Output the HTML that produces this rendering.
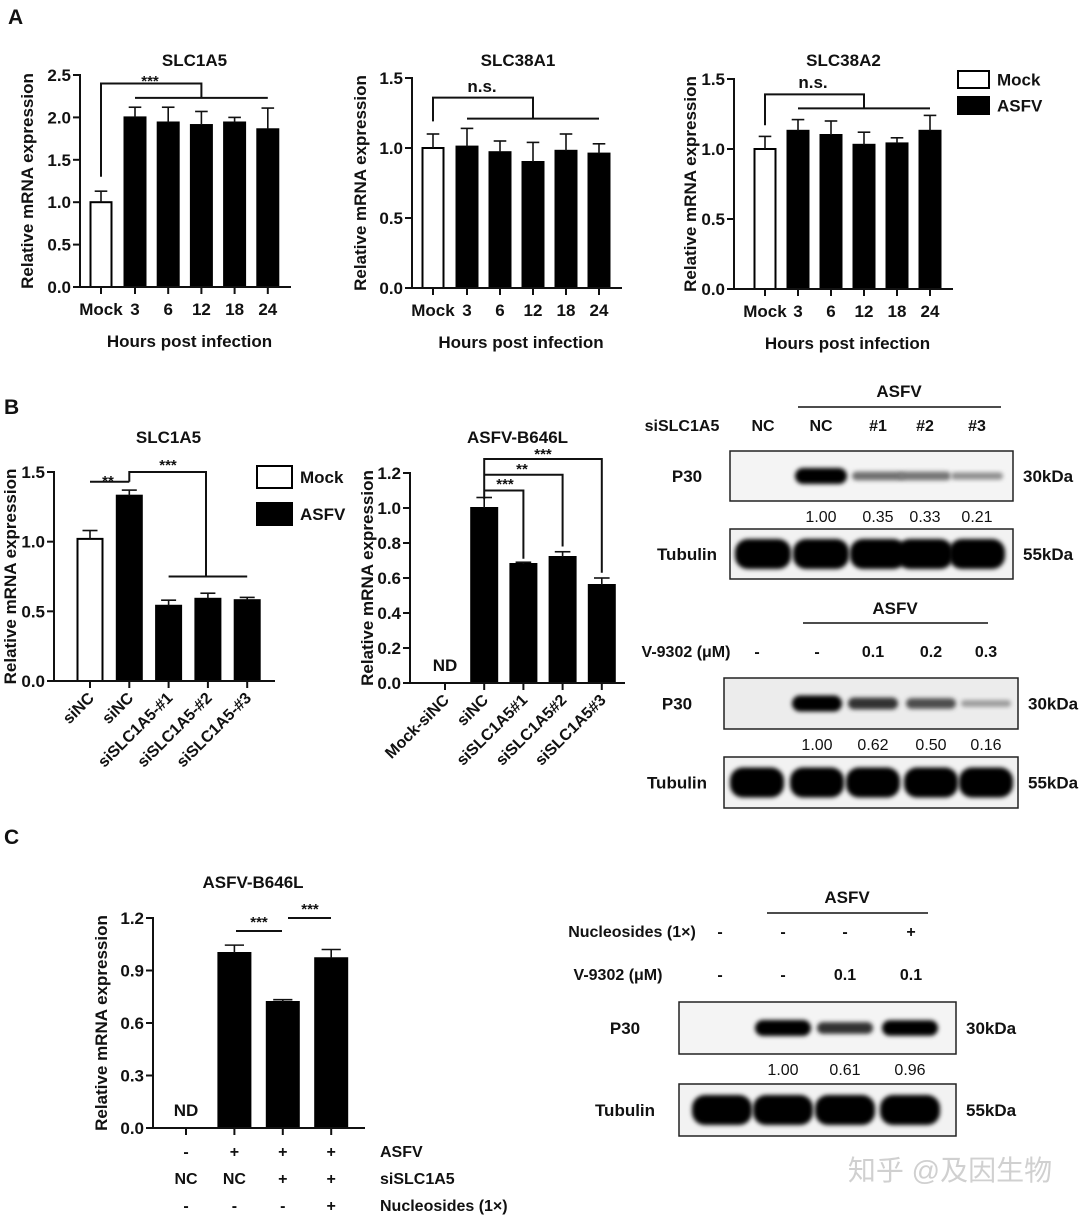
<!DOCTYPE html>
<html><head><meta charset="utf-8"><style>
html,body{margin:0;padding:0;background:#fff;}
svg{display:block;font-family:"Liberation Sans",Arial,sans-serif;}
</style></head><body>
<svg id="fig" width="1080" height="1215" viewBox="0 0 1080 1215">
<defs>
<filter id="blur" x="-20%" y="-50%" width="140%" height="200%"><feGaussianBlur stdDeviation="2.2"/></filter>
</defs>
<g id="root"></g>
</svg>
<script>
// ---- Chart data ----
const a1Categories = ["Mock","3","6","12","18","24"];
const a1Values = [1.00, 2.00, 1.94, 1.91, 1.94, 1.86];
const a1Errors = [0.13, 0.12, 0.18, 0.16, 0.06, 0.25];
const a1Ticks = [0, 0.5, 1.0, 1.5, 2.0, 2.5];
const a1TickLabels = ["0.0","0.5","1.0","1.5","2.0","2.5"];

const a2Categories = ["Mock","3","6","12","18","24"];
const a2Values = [1.00, 1.01, 0.97, 0.90, 0.98, 0.96];
const a2Errors = [0.10, 0.13, 0.08, 0.14, 0.12, 0.07];
const a2Ticks = [0, 0.5, 1.0, 1.5];
const a2TickLabels = ["0.0","0.5","1.0","1.5"];

const a3Categories = ["Mock","3","6","12","18","24"];
const a3Values = [1.00, 1.13, 1.10, 1.03, 1.04, 1.13];
const a3Errors = [0.09, 0.08, 0.10, 0.09, 0.04, 0.11];
const a3Ticks = [0, 0.5, 1.0, 1.5];
const a3TickLabels = ["0.0","0.5","1.0","1.5"];

const b1Categories = ["siNC","siNC","siSLC1A5-#1","siSLC1A5-#2","siSLC1A5-#3"];
const b1Values = [1.02, 1.33, 0.54, 0.59, 0.58];
const b1Errors = [0.06, 0.04, 0.04, 0.04, 0.02];
const b1Ticks = [0, 0.5, 1.0, 1.5];
const b1TickLabels = ["0.0","0.5","1.0","1.5"];

const b2Categories = ["Mock-siNC","siNC","siSLC1A5#1","siSLC1A5#2","siSLC1A5#3"];
const b2Values = [0, 1.00, 0.68, 0.72, 0.56];
const b2Errors = [0, 0.06, 0.01, 0.03, 0.04];
const b2Ticks = [0, 0.2, 0.4, 0.6, 0.8, 1.0, 1.2];
const b2TickLabels = ["0.0","0.2","0.4","0.6","0.8","1.0","1.2"];

const cCategories = ["NC","NC-ASFV","siSLC1A5","siSLC1A5+Nuc"];
const cValues = [0, 1.00, 0.72, 0.97];
const cErrors = [0, 0.045, 0.013, 0.05];
const cTicks = [0, 0.3, 0.6, 0.9, 1.2];
const cTickLabels = ["0.0","0.3","0.6","0.9","1.2"];

const blot1P30 = [0, 1.0, 0.35, 0.33, 0.21];
const blot1Quant = ["", "1.00", "0.35", "0.33", "0.21"];
const blot2P30 = [0, 1.0, 0.62, 0.50, 0.16];
const blot2Quant = ["", "1.00", "0.62", "0.50", "0.16"];
const blot3P30 = [0, 1.0, 0.61, 0.96];
const blot3Quant = ["", "1.00", "0.61", "0.96"];

// ---- helpers ----
const NS = "http://www.w3.org/2000/svg";
const root = document.getElementById("root");
function mk(tag, attrs, parent, txt){
  const e = document.createElementNS(NS, tag);
  for (const k in attrs) e.setAttribute(k, attrs[k]);
  if (txt !== undefined) e.textContent = txt;
  (parent || root).appendChild(e);
  return e;
}
function txt(x, y, s, size, opts, parent){
  opts = opts || {};
  const t = mk("text", {x:x, y:y, "font-size":size, "font-weight":opts.w||"bold", "text-anchor":opts.a||"middle", fill:"#111"}, parent, s);
  if (opts.rot !== undefined) t.setAttribute("transform", "rotate(" + opts.rot + " " + x + " " + y + ")");
  
  
  return t;
}
function line(x1,y1,x2,y2,parent,w){
  return mk("line", {x1:x1,y1:y1,x2:x2,y2:y2,stroke:"#111","stroke-width":w||2}, parent);
}

function barChart(cfg){
  const g = mk("g", {}, root);
  
  
  const y = v => cfg.y0 - (v - 0) / cfg.yMax * (cfg.y0 - cfg.yTop);
  const x = i => cfg.xs0 + i * cfg.step + (i > 0 ? cfg.gap0 : 0);
  cfg.values.forEach((v, i) => {
    const cx = x(i);
    if (v > 0){
      const white = cfg.white.includes(i);
      const r = mk("rect", {x:cx - cfg.bw/2, y:y(v), width:cfg.bw, height:cfg.y0 - y(v),
        fill: white ? "#fff" : "#000", stroke:"#000", "stroke-width":2}, g);
      
      
      const e = cfg.errors[i];
      if (e > 0){
        line(cx, y(v), cx, y(v+e), g, 1.6);
        line(cx - cfg.bw*0.3, y(v+e), cx + cfg.bw*0.3, y(v+e), g, 1.6);
      }
    } else if (cfg.nd){
      txt(cx, cfg.y0 - 12, "ND", 17, {name:"nd-label"}, g);
    }
  });
  const ya = line(cfg.ax, cfg.y0, cfg.ax, y(cfg.ticks[cfg.ticks.length-1]) - 1, g, 2);
   
  const xa = line(cfg.ax - 1, cfg.y0, cfg.axEnd, cfg.y0, g, 2);
   
  cfg.ticks.forEach((t, i) => {
    line(cfg.ax - 7, y(t), cfg.ax, y(t), g, 2);
    txt(cfg.ax - 9, y(t) + 6, cfg.tickLabels[i], 17, {a:"end", name:"y-tick-label"}, g);
  });
  cfg.values.forEach((v, i) => { line(x(i), cfg.y0, x(i), cfg.y0 + 7, g, 2); });
  if (cfg.labelMode === "flat"){
    cfg.categories.forEach((c, i) => txt(x(i), cfg.y0 + 28, c, 17, {name:"x-tick-label"}, g));
  } else if (cfg.labelMode === "rot"){
    cfg.categories.forEach((c, i) => txt(x(i) + 5, cfg.y0 + 18, c, 16, {a:"end", rot:-45, name:"x-tick-label"}, g));
  }
  txt((cfg.ax + cfg.axEnd)/2 + (cfg.titleDx||0), cfg.titleY, cfg.title, 17, {name:"chart-title"}, g);
  const yt = (cfg.y0 + cfg.yTop)/2;
  txt(cfg.ytX, yt, "Relative mRNA expression", 17, {rot:-90, name:"y-axis-title"}, g);
  if (cfg.xTitle) txt((cfg.ax + cfg.axEnd)/2 + 4, cfg.y0 + 60, cfg.xTitle, 17, {name:"x-axis-title"}, g);
  return {g:g, x:x, y:y};
}
function poly(pts, g){
  mk("polyline", {points: pts.map(p => p.join(",")).join(" "), fill:"none", stroke:"#111", "stroke-width":2}, g);
}

// ---- Panel letters ----
txt(8, 24, "A", 21, {a:"start", name:"panel-label-a"});
txt(4, 414, "B", 21, {a:"start", name:"panel-label-b"});
txt(4, 844, "C", 21, {a:"start", name:"panel-label-c"});

// ---- A1 ----
let c = barChart({name:"chart-a1-slc1a5", values:a1Values, errors:a1Errors, categories:a1Categories, ticks:a1Ticks, tickLabels:a1TickLabels,
  y0:287, yTop:75, yMax:2.5, ax:80, axEnd:291, xs0:101, step:33.2, gap0:0.8, bw:21, white:[0], labelMode:"flat",
  title:"SLC1A5", titleY:66, titleDx:9, ytX:33, xTitle:"Hours post infection"});
poly([[c.x(0), c.y(1.3)],[c.x(0), c.y(2.4)],[c.x(3), c.y(2.4)],[c.x(3), c.y(2.23)]], c.g);
line(c.x(1), c.y(2.23), c.x(5), c.y(2.23), c.g);
txt(150, 86, "***", 15, {name:"significance-label"}, c.g);

// ---- A2 ----
c = barChart({name:"chart-a2-slc38a1", values:a2Values, errors:a2Errors, categories:a2Categories, ticks:a2Ticks, tickLabels:a2TickLabels,
  y0:288, yTop:78, yMax:1.5, ax:412, axEnd:622, xs0:433, step:33, gap0:1, bw:21, white:[0], labelMode:"flat",
  title:"SLC38A1", titleY:66, titleDx:1, ytX:366, xTitle:"Hours post infection"});
poly([[c.x(0), c.y(1.19)],[c.x(0), c.y(1.36)],[c.x(3), c.y(1.36)],[c.x(3), c.y(1.21)]], c.g);
line(c.x(1), c.y(1.21), c.x(5), c.y(1.21), c.g);
txt(482, 92, "n.s.", 17, {name:"significance-label"}, c.g);

// ---- A3 ----
c = barChart({name:"chart-a3-slc38a2", values:a3Values, errors:a3Errors, categories:a3Categories, ticks:a3Ticks, tickLabels:a3TickLabels,
  y0:289, yTop:79, yMax:1.5, ax:734, axEnd:953, xs0:765, step:33, gap0:0, bw:21, white:[0], labelMode:"flat",
  title:"SLC38A2", titleY:66, titleDx:0, ytX:696, xTitle:"Hours post infection"});
poly([[c.x(0), c.y(1.17)],[c.x(0), c.y(1.39)],[c.x(3), c.y(1.39)],[c.x(3), c.y(1.29)]], c.g);
line(c.x(1), c.y(1.29), c.x(5), c.y(1.29), c.g);
txt(813, 88, "n.s.", 17, {name:"significance-label"}, c.g);

function legend(x, y1, y2, w, h, tx){
  const g = mk("g", {}, root);
  
  
  const r1 = mk("rect", {x:x, y:y1, width:w, height:h, fill:"#fff", stroke:"#000", "stroke-width":2}, g);
   
  const r2 = mk("rect", {x:x, y:y2, width:w, height:h, fill:"#000", stroke:"#000", "stroke-width":2}, g);
   
  txt(tx, y1 + h/2 + 6, "Mock", 17, {a:"start", name:"legend-entry-mock"}, g);
  txt(tx, y2 + h/2 + 6, "ASFV", 17, {a:"start", name:"legend-entry-asfv"}, g);
}
legend(958, 71, 97, 31, 17, 997);

// ---- B1 ----
c = barChart({name:"chart-b1-slc1a5", values:b1Values, errors:b1Errors, categories:b1Categories, ticks:b1Ticks, tickLabels:b1TickLabels,
  y0:681, yTop:472, yMax:1.5, ax:54, axEnd:275, xs0:90, step:39.3, gap0:0, bw:25, white:[0], labelMode:"rot",
  title:"SLC1A5", titleY:443, titleDx:4, ytX:16});
line(c.x(0), c.y(1.43), c.x(1), c.y(1.43), c.g);
txt(108, 486, "**", 15, {name:"significance-label"}, c.g);
poly([[c.x(1), c.y(1.43)],[c.x(1), c.y(1.5)],[206, c.y(1.5)],[206, c.y(0.75)]], c.g);
line(c.x(2), c.y(0.75), c.x(4), c.y(0.75), c.g);
txt(168, 470, "***", 15, {name:"significance-label"}, c.g);
legend(257, 466, 503, 35, 22, 300);

// ---- B2 ----
c = barChart({name:"chart-b2-asfv-b646l", values:b2Values, errors:b2Errors, categories:b2Categories, ticks:b2Ticks, tickLabels:b2TickLabels,
  y0:683, yTop:473, yMax:1.2, ax:410, axEnd:625, xs0:445, step:39.2, gap0:0, bw:26, white:[], labelMode:"rot", nd:true,
  title:"ASFV-B646L", titleY:443, titleDx:0, ytX:373});
poly([[c.x(1), c.y(1.05)],[c.x(1), c.y(1.28)],[c.x(4), c.y(1.28)],[c.x(4), c.y(0.63)]], c.g);
poly([[c.x(1), c.y(1.19)],[c.x(3), c.y(1.19)],[c.x(3), c.y(0.78)]], c.g);
poly([[c.x(1), c.y(1.10)],[c.x(2), c.y(1.10)],[c.x(2), c.y(0.71)]], c.g);
txt(543, 459, "***", 15, {name:"significance-label"}, c.g);
txt(522, 474, "**", 15, {name:"significance-label"}, c.g);
txt(505, 489, "***", 15, {name:"significance-label"}, c.g);

// ---- C ----
c = barChart({name:"chart-c-asfv-b646l", values:cValues, errors:cErrors, categories:cCategories, ticks:cTicks, tickLabels:cTickLabels,
  y0:1128, yTop:918, yMax:1.2, ax:153, axEnd:365, xs0:186, step:48.4, gap0:0, bw:32, white:[], labelMode:"none", nd:true,
  title:"ASFV-B646L", titleY:888, titleDx:-6, ytX:107});
line(236, c.y(1.126), 282, c.y(1.126), c.g);
line(288, c.y(1.2), 331, c.y(1.2), c.g);
txt(259, 927, "***", 15, {name:"significance-label"}, c.g);
txt(310, 914, "***", 15, {name:"significance-label"}, c.g);
const cRows = [["-","+","+","+","ASFV"],["NC","NC","+","+","siSLC1A5"],["-","-","-","+","Nucleosides (1×)"]];
cRows.forEach((row, r) => {
  const yy = 1157 + r*27;
  for (let i = 0; i < 4; i++) txt(c.x(i), yy, row[i], 16, {name:"condition-mark"});
  txt(380, yy, row[4], 16, {a:"start", name:"condition-label"});
});

// ---- Western blots ----
function blot(cfg){
  const g = mk("g", {}, root);
  
  
  const b1 = mk("rect", {x:cfg.x0, y:cfg.p30Y, width:cfg.x1-cfg.x0, height:cfg.h, fill:cfg.bg||"#f4f4f4", stroke:"#222", "stroke-width":1.5}, g);
   
  const b2 = mk("rect", {x:cfg.x0, y:cfg.tubY, width:cfg.x1-cfg.x0, height:cfg.h, fill:"#f2f2f2", stroke:"#222", "stroke-width":1.5}, g);
   
  cfg.lanes.forEach((lx, i) => {
    const v = cfg.p30[i];
    if (v > 0){
      const th = 5 + 11*v;
      const sh = Math.round(255 - 255*Math.min(1, 0.25 + v*0.9));
      const col = "rgb(" + sh + "," + sh + "," + sh + ")";
      const e = mk("rect", {x:lx - cfg.bw/2, y:cfg.p30Y + cfg.h/2 - th/2, width:cfg.bw, height:th, rx:th/2, fill:col, filter:"url(#blur)"}, g);
       
    }
    const t = mk("rect", {x:lx - cfg.bw/2 - 2, y:cfg.tubY + cfg.h/2 - 15, width:cfg.bw + 4, height:30, rx:13, fill:"#050505", filter:"url(#blur)"}, g);
     
    if (cfg.quant[i]) txt(lx, cfg.p30Y + cfg.h + 21, cfg.quant[i], 16, {w:"normal", name:"band-quantification"}, g);
  });
  txt(cfg.lblX, cfg.p30Y + cfg.h/2 + 6, "P30", 17, {name:"p30-label"}, g);
  txt(cfg.lblX, cfg.tubY + cfg.h/2 + 6, "Tubulin", 17, {name:"tubulin-label"}, g);
  txt(cfg.x1 + 10, cfg.p30Y + cfg.h/2 + 6, "30kDa", 17, {a:"start", name:"p30-mw"}, g);
  txt(cfg.x1 + 10, cfg.tubY + cfg.h/2 + 6, "55kDa", 17, {a:"start", name:"tubulin-mw"}, g);
  return g;
}
blot({name:"blot-b-sislc1a5", x0:730, x1:1013, p30Y:451, tubY:529, h:50, lanes:[763,821,878,925,977], bw:52,
  p30:blot1P30, quant:blot1Quant, lblX:687});
txt(899, 397, "ASFV", 17, {name:"asfv-header"});
line(798, 407, 1001, 407, null, 1.5);
txt(682, 431, "siSLC1A5", 16, {name:"row-label"});
["NC","NC","#1","#2","#3"].forEach((s, i) => txt([763,821,878,925,977][i], 431, s, 16, {name:"lane-label"}));

blot({name:"blot-b-v9302", x0:724, x1:1018, p30Y:678, tubY:757, h:51, lanes:[757,817,873,931,986], bw:50,
  p30:blot2P30, quant:blot2Quant, lblX:677, bg:"#ececec"});
txt(895, 614, "ASFV", 17, {name:"asfv-header"});
line(803, 623, 988, 623, null, 1.5);
txt(686, 657, "V-9302 (μM)", 16, {name:"row-label"});
["-","-","0.1","0.2","0.3"].forEach((s, i) => txt([757,817,873,931,986][i], 657, s, 16, {name:"lane-label"}));

blot({name:"blot-c-nucleosides", x0:679, x1:956, p30Y:1002, tubY:1084, h:52, lanes:[722,783,845,910], bw:56,
  p30:blot3P30, quant:blot3Quant, lblX:625});
txt(847, 903, "ASFV", 17, {name:"asfv-header"});
line(767, 913, 928, 913, null, 1.5);
txt(632, 937, "Nucleosides (1×)", 16, {name:"row-label"});
txt(618, 980, "V-9302 (μM)", 16, {name:"row-label"});
["-","-","-","+"].forEach((s, i) => txt([720,783,845,911][i], 937, s, 16, {name:"lane-label"}));
["-","-","0.1","0.1"].forEach((s, i) => txt([720,783,845,911][i], 980, s, 16, {name:"lane-label"}));

const wm = txt(950, 1180, "知乎 @及因生物", 28, {w:"normal", name:"watermark"});
wm.setAttribute("fill", "#d0d0d0");
wm.setAttribute("font-family", "\"Liberation Sans\", \"Noto Sans CJK SC\", sans-serif");
</script>
</body></html>
